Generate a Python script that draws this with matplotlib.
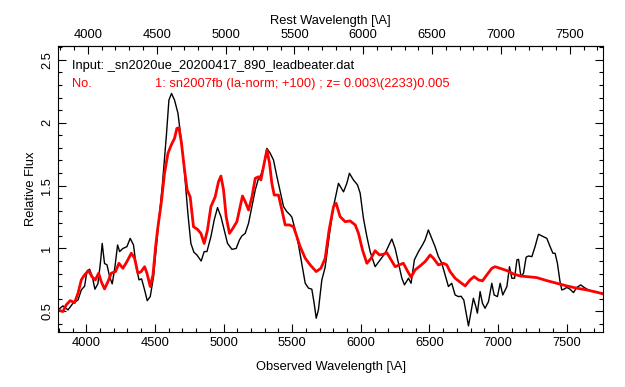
import matplotlib
matplotlib.use('Agg')
import matplotlib.pyplot as plt
from matplotlib.ticker import MultipleLocator, FixedLocator
import numpy as np

plt.rcParams['font.family'] = ['Liberation Sans', 'DejaVu Sans']

z = 0.003

# input spectrum (black)
obs_wave = [3794, 3830, 3867, 3903, 3940, 3964, 3988, 4005, 4024, 4044, 4063, 4085,
            4104, 4116, 4133, 4151, 4170, 4189, 4209, 4228, 4243, 4267, 4296, 4320,
            4344, 4364, 4384, 4403, 4425, 4444, 4466, 4490, 4522, 4553, 4583, 4602,
            4621, 4643, 4668, 4692, 4716, 4740, 4762, 4784, 4806, 4837, 4859, 4879,
            4908, 4932, 4956, 4981, 5005, 5029, 5061, 5092, 5116, 5134, 5158, 5182,
            5207, 5231, 5255, 5272, 5291, 5316, 5340, 5364, 5389, 5413, 5437, 5461,
            5485, 5498, 5522, 5546, 5571, 5595, 5619, 5643, 5660, 5675, 5691, 5716,
            5740, 5769, 5801, 5837, 5874, 5898, 5917, 5946, 5976, 5995, 6019, 6044,
            6068, 6104, 6141, 6177, 6206, 6226, 6250, 6274, 6299, 6318, 6347, 6366,
            6390, 6420, 6449, 6468, 6492, 6517, 6541, 6565, 6590, 6614, 6638, 6662,
            6687, 6711, 6730, 6750, 6767, 6784, 6801, 6820, 6838, 6849, 6869, 6886,
            6905, 6930, 6954, 6971, 6995, 7015, 7034, 7064, 7083, 7100, 7120, 7137,
            7149, 7166, 7185, 7204, 7221, 7246, 7269, 7294, 7318, 7355, 7379, 7399,
            7415, 7432, 7451, 7464, 7480, 7500, 7524, 7549, 7573, 7602, 7626, 7658,
            7694, 7729, 7766]
obs_flux = [0.511, 0.543, 0.511, 0.564, 0.59, 0.67, 0.70, 0.82, 0.835, 0.776, 0.676, 0.72,
            0.895, 1.04, 0.88, 0.87, 0.776, 0.718, 0.855, 1.028, 0.975, 1.0, 1.014, 1.08,
            1.028, 0.855, 0.75, 0.758, 0.67, 0.585, 0.617, 0.776, 1.147, 1.49, 1.89, 2.18,
            2.233, 2.18, 2.075, 1.86, 1.6, 1.28, 1.04, 0.97, 0.948, 0.90, 0.975, 0.975,
            1.094, 1.227, 1.325, 1.253, 1.147, 1.04, 0.993, 1.0, 1.068, 1.1, 1.12, 1.2,
            1.333, 1.465, 1.558, 1.584, 1.65, 1.796, 1.757, 1.703, 1.57, 1.45, 1.333, 1.293,
            1.267, 1.248, 1.147, 1.028, 0.87, 0.723, 0.684, 0.676, 0.564, 0.445, 0.511, 0.75,
            0.85, 1.094, 1.333, 1.518, 1.45, 1.518, 1.598, 1.545, 1.505, 1.44, 1.24, 1.094,
            0.975, 0.855, 0.909, 0.962, 1.028, 1.075, 1.0, 0.882, 0.763, 0.71, 0.763, 0.723,
            0.909, 0.975, 1.028, 1.068, 1.147, 1.08, 1.014, 0.935, 0.882, 0.79, 0.697, 0.723,
            0.63, 0.617, 0.62, 0.59, 0.485, 0.384, 0.485, 0.604, 0.537, 0.485, 0.657, 0.564,
            0.524, 0.577, 0.723, 0.63, 0.617, 0.723, 0.63, 0.697, 0.855, 0.763, 0.763, 0.909,
            0.914, 0.776, 0.803, 0.93, 0.94, 0.935, 1.014, 1.113, 1.1, 1.08, 1.014, 0.962,
            0.962, 0.882, 0.736, 0.67, 0.676, 0.69, 0.676, 0.649, 0.69, 0.71, 0.69, 0.67,
            0.657, 0.649, 0.644]

# template sn2007fb (red)
tmp_wave = [3794, 3830, 3854, 3883, 3915, 3940, 3964, 3988, 4017, 4041, 4066, 4090,
            4109, 4133, 4158, 4182, 4213, 4238, 4267, 4296, 4328, 4352, 4376, 4400,
            4425, 4442, 4466, 4486, 4505, 4522, 4546, 4570, 4595, 4619, 4643, 4660,
            4675, 4692, 4716, 4735, 4757, 4781, 4810, 4835, 4859, 4883, 4908, 4939,
            4963, 4981, 5000, 5019, 5043, 5068, 5097, 5116, 5138, 5158, 5182, 5207,
            5231, 5255, 5272, 5291, 5316, 5335, 5352, 5369, 5400, 5425, 5449, 5480,
            5509, 5534, 5558, 5595, 5631, 5675, 5709, 5740, 5769, 5801, 5820, 5849,
            5886, 5922, 5959, 5983, 6012, 6044, 6075, 6104, 6136, 6165, 6189, 6221,
            6250, 6279, 6310, 6342, 6366, 6395, 6432, 6468, 6505, 6529, 6565, 6602,
            6626, 6650, 6687, 6723, 6760, 6796, 6825, 6857, 6886, 6918, 6954, 6978,
            7015, 7064, 7112, 7161, 7209, 7282, 7355, 7427, 7500, 7573, 7646, 7718,
            7766]
tmp_flux = [0.511, 0.498, 0.551, 0.585, 0.569, 0.644, 0.75, 0.79, 0.824, 0.776, 0.75, 0.803,
            0.736, 0.678, 0.736, 0.803, 0.816, 0.882, 0.842, 0.895, 0.962, 0.922, 0.803, 0.816,
            0.855, 0.803, 0.697, 0.79, 1.014, 1.173, 1.359, 1.598, 1.757, 1.823, 1.876, 1.955,
            1.96, 1.85, 1.624, 1.465, 1.41, 1.173, 1.152, 1.12, 1.04, 1.147, 1.333, 1.41,
            1.53, 1.576, 1.465, 1.253, 1.12, 1.16, 1.213, 1.306, 1.417, 1.372, 1.306, 1.41,
            1.558, 1.57, 1.545, 1.65, 1.783, 1.677, 1.518, 1.425, 1.425, 1.306, 1.187, 1.187,
            1.173, 1.094, 1.014, 0.922, 0.869, 0.816, 0.842, 0.92, 1.147, 1.333, 1.359, 1.253,
            1.213, 1.219, 1.187, 1.12, 0.988, 0.882, 0.922, 0.982, 0.948, 0.954, 0.967, 0.909,
            0.855, 0.869, 0.882, 0.816, 0.771, 0.829, 0.861, 0.895, 0.948, 0.922, 0.869, 0.882,
            0.869, 0.816, 0.763, 0.732, 0.702, 0.75, 0.776, 0.75, 0.742, 0.79, 0.842, 0.855,
            0.842, 0.824, 0.797, 0.781, 0.776, 0.768, 0.744, 0.723, 0.702, 0.684, 0.67, 0.652,
            0.638]

rest_ticks = [4000, 4500, 5000, 5500, 6000, 6500, 7000, 7500]

fs = 9.3

fig = plt.figure(figsize=(6.25, 3.87), dpi=100)
ax = fig.add_axes([0.093, 0.142, 0.872, 0.739])

ax.plot(obs_wave, obs_flux, color='black', lw=1.0)
ax.plot(tmp_wave, tmp_flux, color='red', lw=2.0)

ax.set_xlim(3795, 7765)
ax.set_ylim(0.335, 2.61)

ax.xaxis.set_major_locator(MultipleLocator(500))
ax.xaxis.set_minor_locator(MultipleLocator(100))
ax.yaxis.set_major_locator(MultipleLocator(0.5))
ax.yaxis.set_minor_locator(MultipleLocator(0.1))
ax.yaxis.set_major_formatter(plt.FuncFormatter(lambda v, p: f'{v:g}'))

ax.tick_params(which='both', direction='in', right=True, top=False, labelsize=fs)
ax.tick_params(which='major', length=6, width=0.8)
ax.tick_params(which='minor', length=3, width=0.8)
for lab in ax.get_yticklabels():
    lab.set_rotation(90)
    lab.set_va('center')

# top axis: rest wavelength
sec = ax.secondary_xaxis('top', functions=(lambda x: x / (1 + z), lambda x: x * (1 + z)))
sec.xaxis.set_major_locator(FixedLocator(rest_ticks))
sec.xaxis.set_minor_locator(FixedLocator(list(range(3800, 7800, 100))))
sec.tick_params(which='both', direction='in', labelsize=fs)
sec.tick_params(which='major', length=6, width=0.8)
sec.tick_params(which='minor', length=3, width=0.8)
sec.set_xlabel('Rest Wavelength [\\A]', fontsize=fs, labelpad=4)

ax.set_xlabel('Observed Wavelength [\\A]', fontsize=fs, labelpad=9)
ax.set_ylabel('Relative Flux', fontsize=fs, labelpad=3)

ax.text(0.026, 0.93, 'Input: _sn2020ue_20200417_890_leadbeater.dat',
        transform=ax.transAxes, fontsize=fs, color='black', va='center')
ax.text(0.026, 0.867, 'No.', transform=ax.transAxes, fontsize=fs,
        color='red', va='center')
ax.text(0.178, 0.867, '1: sn2007fb (Ia-norm; +100) ; z= 0.003\\(2233)0.005',
        transform=ax.transAxes, fontsize=fs, color='red', va='center')

plt.savefig('out.png', dpi=100)
